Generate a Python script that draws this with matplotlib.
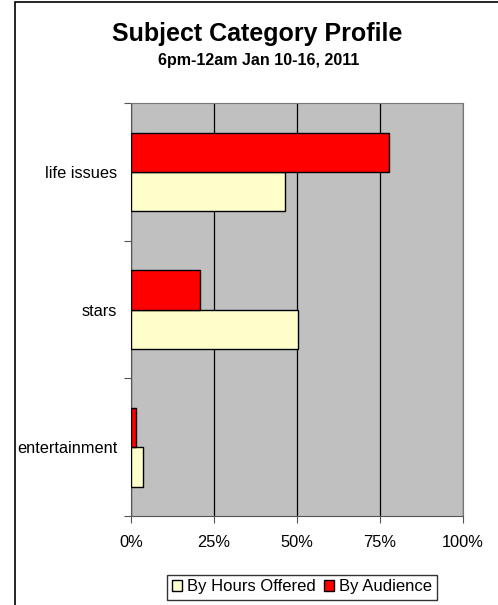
import matplotlib
matplotlib.use("Agg")
import matplotlib.pyplot as plt
from matplotlib.patches import Rectangle, Patch
import numpy as np

plt.rcParams['font.family'] = ['Liberation Sans', 'DejaVu Sans']

categories = ["entertainment", "stars", "life issues"]
hours_offered = [3.7, 50.2, 46.4]
audience = [1.6, 20.9, 77.6]
x_ticks = [0, 25, 50, 75, 100]
x_labels = ["0%", "25%", "50%", "75%", "100%"]

W, H = 498, 605
fig = plt.figure(figsize=(W / 100, H / 100), dpi=100)
fig.patch.set_facecolor("white")

# outer chart frame
fig.patches.append(Rectangle((15 / W, -0.05), 1.2, 1 - 2 / H + 0.05,
                             transform=fig.transFigure, fill=False,
                             edgecolor="black", linewidth=1.2))

left, right, top, bottom = 131, 463, 103, 516
ax = fig.add_axes([left / W, 1 - bottom / H, (right - left) / W, (bottom - top) / H])
ax.set_facecolor("#c0c0c0")

y = np.arange(len(categories))
bh = 1 / 3.5
ax.barh(y - bh / 2, hours_offered, height=bh, color="#ffffcc",
        edgecolor="black", linewidth=1.0, zorder=3, label="By Hours Offered")
ax.barh(y + bh / 2, audience, height=bh, color="#ff0000",
        edgecolor="black", linewidth=1.0, zorder=3, label="By Audience")

ax.set_xlim(0, 100)
ax.set_ylim(-0.5, len(categories) - 0.5)
ax.set_xticks(x_ticks)
ax.set_xticklabels(x_labels, fontsize=11.75)
ax.set_yticks(y)
ax.set_yticklabels(categories, fontsize=11.75)
ax.tick_params(axis="y", length=0, pad=10)
ax.set_yticks(np.arange(-0.5, len(categories), 1.0), minor=True)
ax.tick_params(axis="y", which="minor", length=5, width=0.8, color="#555555")
ax.tick_params(axis="x", length=5, width=0.8, color="#555555", pad=9)
ax.xaxis.grid(True, color="black", linewidth=0.9, zorder=1)
for side in ["top", "right"]:
    ax.spines[side].set_color("#777777")
for side in ["left", "bottom"]:
    ax.spines[side].set_color("#555555")

fig.text(257 / W, 1 - 34 / H, "Subject Category Profile", ha="center", va="center",
         fontsize=18, fontweight="bold")
fig.text(259 / W, 1 - 61 / H, "6pm-12am Jan 10-16, 2011", ha="center", va="center",
         fontsize=11.5, fontweight="bold")

handles = [Patch(facecolor="#ffffcc", edgecolor="black"),
           Patch(facecolor="#ff0000", edgecolor="black")]
leg = fig.legend(handles, ["By Hours Offered", "By Audience"], loc="center",
                 bbox_to_anchor=(302 / W, 1 - 587 / H), ncol=2, fontsize=12,
                 frameon=True, fancybox=False, edgecolor="black",
                 handlelength=0.6, handleheight=0.6, handletextpad=0.3,
                 columnspacing=0.5, borderpad=0.3, borderaxespad=0)
leg.get_frame().set_linewidth(1.0)

fig.savefig("out.png", dpi=100)
